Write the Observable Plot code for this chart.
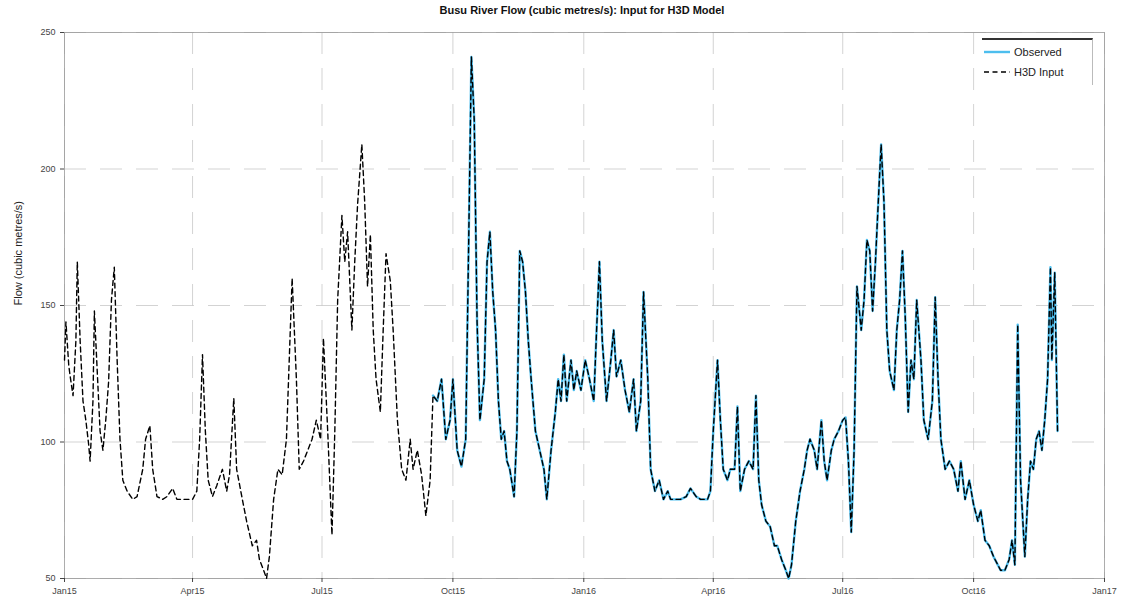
<!DOCTYPE html>
<html>
<head>
<meta charset="utf-8">
<script src="https://cdn.jsdelivr.net/npm/d3@7"></script>
<script src="https://cdn.jsdelivr.net/npm/@observablehq/plot@0.6"></script>
<style>
  body { margin: 0; background: #fff; font-family: "Liberation Sans", Arial, sans-serif; }
  #wrap { position: relative; width: 1124px; height: 604px; }
  #title { height: 20px; line-height: 20px; text-align: center; font-weight: bold; font-size: 11px; color: #111; padding-left: 40px; }
  #legend { position: absolute; left: 982px; top: 38px; width: 110px; background: #fff; border-top: 2px solid #333; border-right: 1px solid #bbb; font-size: 11px; color: #222; padding: 2px 0 3px 0; }
  #legend .row { display: flex; align-items: center; height: 20px; }
  #legend svg { margin: 0 4px 0 2px; }
</style>
</head>
<body>
<div id="wrap">
  <div id="title">Busu River Flow (cubic metres/s): Input for H3D Model</div>
  <div id="chart"></div>
  <div id="legend">
    <div class="row"><svg width="26" height="6"><line x1="0" y1="3" x2="26" y2="3" stroke="#4DBEEE" stroke-width="2.4"/></svg>Observed</div>
    <div class="row"><svg width="26" height="6"><line x1="0" y1="3" x2="26" y2="3" stroke="#000" stroke-width="1.5" stroke-dasharray="5,3.5"/></svg>H3D Input</div>
  </div>
</div>
<script>
const h3dDates = [
"2015-01-01","2015-01-02","2015-01-04","2015-01-05","2015-01-07","2015-01-09","2015-01-10","2015-01-12","2015-01-14","2015-01-16",
"2015-01-18","2015-01-19","2015-01-21","2015-01-22","2015-01-24","2015-01-26","2015-01-28","2015-01-30","2015-02-01","2015-02-03",
"2015-02-05","2015-02-07","2015-02-09","2015-02-11","2015-02-14","2015-02-18","2015-02-21","2015-02-25","2015-02-27","2015-03-02",
"2015-03-04","2015-03-07","2015-03-11","2015-03-14","2015-03-18","2015-03-21","2015-03-26","2015-04-01","2015-04-04","2015-04-06",
"2015-04-08","2015-04-10","2015-04-12","2015-04-15","2015-04-18","2015-04-22","2015-04-25","2015-04-27","2015-04-30","2015-05-02",
"2015-05-06","2015-05-09","2015-05-13","2015-05-16","2015-05-18","2015-05-21","2015-05-23","2015-05-25","2015-05-28","2015-05-31",
"2015-06-03","2015-06-06","2015-06-10","2015-06-13","2015-06-15","2015-06-18","2015-06-21","2015-06-24","2015-06-27","2015-06-30",
"2015-07-02","2015-07-05","2015-07-08","2015-07-10","2015-07-12","2015-07-15","2015-07-17","2015-07-19","2015-07-22","2015-07-24",
"2015-07-26","2015-07-29","2015-07-31","2015-08-02","2015-08-04","2015-08-06","2015-08-08","2015-08-11","2015-08-13","2015-08-15",
"2015-08-18","2015-08-20","2015-08-23","2015-08-26","2015-08-29","2015-09-01","2015-09-03","2015-09-06","2015-09-09","2015-09-12",
"2015-09-15","2015-09-17","2015-09-20","2015-09-23","2015-09-26","2015-09-29","2015-10-01","2015-10-04","2015-10-07","2015-10-10",
"2015-10-12","2015-10-14","2015-10-16","2015-10-18","2015-10-20","2015-10-23","2015-10-25","2015-10-27","2015-10-29","2015-10-31",
"2015-11-02","2015-11-04","2015-11-06","2015-11-08","2015-11-10","2015-11-13","2015-11-15","2015-11-17","2015-11-19","2015-11-21",
"2015-11-23","2015-11-25","2015-11-28","2015-12-01","2015-12-04","2015-12-06","2015-12-09","2015-12-12","2015-12-14","2015-12-16",
"2015-12-18","2015-12-20","2015-12-23","2015-12-25","2015-12-27","2015-12-30","2016-01-02","2016-01-05","2016-01-08","2016-01-10",
"2016-01-12","2016-01-14","2016-01-17","2016-01-20","2016-01-22","2016-01-24","2016-01-27","2016-01-30","2016-02-02","2016-02-05",
"2016-02-07","2016-02-10","2016-02-12","2016-02-15","2016-02-17","2016-02-20","2016-02-23","2016-02-26","2016-02-29","2016-03-02",
"2016-03-06","2016-03-09","2016-03-13","2016-03-16","2016-03-20","2016-03-23","2016-03-28","2016-03-30","2016-04-01","2016-04-04",
"2016-04-06","2016-04-08","2016-04-11","2016-04-13","2016-04-16","2016-04-18","2016-04-20","2016-04-23","2016-04-26","2016-04-29",
"2016-05-01","2016-05-03","2016-05-05","2016-05-08","2016-05-11","2016-05-14","2016-05-16","2016-05-19","2016-05-22","2016-05-24",
"2016-05-26","2016-05-29","2016-06-01","2016-06-04","2016-06-06","2016-06-08","2016-06-11","2016-06-13","2016-06-16","2016-06-18",
"2016-06-20","2016-06-23","2016-06-25","2016-06-28","2016-07-01","2016-07-03","2016-07-05","2016-07-07","2016-07-09","2016-07-11",
"2016-07-14","2016-07-16","2016-07-18","2016-07-20","2016-07-22","2016-07-24","2016-07-26","2016-07-28","2016-07-30","2016-08-01",
"2016-08-03","2016-08-06","2016-08-08","2016-08-10","2016-08-12","2016-08-14","2016-08-16","2016-08-18","2016-08-20","2016-08-22",
"2016-08-25","2016-08-27","2016-08-30","2016-09-02","2016-09-04","2016-09-06","2016-09-08","2016-09-11","2016-09-14","2016-09-17",
"2016-09-20","2016-09-22","2016-09-25","2016-09-28","2016-10-01","2016-10-04","2016-10-06","2016-10-09","2016-10-12","2016-10-15",
"2016-10-18","2016-10-20","2016-10-23","2016-10-26","2016-10-28","2016-10-30","2016-11-01","2016-11-03","2016-11-06","2016-11-08",
"2016-11-10","2016-11-12","2016-11-14","2016-11-16","2016-11-18","2016-11-20","2016-11-22","2016-11-24","2016-11-25","2016-11-27",
"2016-11-29"
];
const h3dFlow = [
130,144,128,124,117,137,166,137,115,108,
99,93,115,148,126,104,97,108,122,152,
164,130,101,86,82,79,80,90,101,106,
90,80,79,80,83,79,79,79,82,101,
132,104,86,80,84,90,82,88,116,90,
79,71,62,64,57,53,50,58,79,90,
88,101,160,123,90,93,97,101,108,101,
138,104,66,104,152,183,166,177,141,166,
187,209,188,157,176,141,123,111,141,169,
159,141,108,90,86,101,90,97,88,73,
86,117,115,123,101,108,123,97,91,101,
170,241,218,144,108,123,166,177,155,141,
115,101,104,93,90,80,104,170,166,155,
137,123,104,97,90,79,97,111,123,115,
132,115,130,119,126,119,130,123,115,141,
166,137,115,130,141,124,130,119,111,123,
104,115,155,123,90,82,86,79,82,79,
79,79,80,83,80,79,79,82,104,130,
108,90,86,90,90,113,82,90,93,90,
117,86,77,71,69,62,62,57,53,50,
55,71,82,90,97,101,97,90,108,93,
86,97,101,104,108,109,93,67,97,157,
141,152,174,170,148,166,188,209,188,141,
126,119,141,152,170,145,111,130,123,152,
130,108,101,115,153,123,101,90,93,90,
82,93,79,86,77,71,75,64,62,58,
55,53,53,57,64,55,143,86,58,79,
93,90,101,104,97,108,123,164,130,162,
104
];
const observedStart = "2015-09-17";
const yTicks = [50, 100, 150, 200, 250];
const yLabel = "Flow (cubic metres/s)";

const parse = d3.utcParse("%Y-%m-%d");
const h3d = h3dDates.map((d, i) => ({date: parse(d), flow: h3dFlow[i]}));
const obs = h3d.filter(d => d.date >= parse(observedStart));
const xTicks = d3.utcMonth.every(3).range(new Date(Date.UTC(2015,0,1)), new Date(Date.UTC(2017,0,2)));

const chart = Plot.plot({
  width: 1124,
  height: 584,
  marginTop: 12,
  marginBottom: 26,
  marginLeft: 64,
  marginRight: 20,
  style: {fontFamily: "Liberation Sans, Arial, sans-serif", fontSize: "9px", color: "#444"},
  x: {type: "utc", domain: [new Date(Date.UTC(2015,0,1)), new Date(Date.UTC(2017,0,1))], ticks: xTicks, tickFormat: d3.utcFormat("%b%y"), label: null, tickSize: 4},
  y: {domain: [50, 250], ticks: yTicks, label: null, tickSize: 4},
  marks: [
    Plot.gridX(xTicks, {stroke: "#c8c8c8", strokeOpacity: 1, strokeDasharray: "22,14", strokeWidth: 0.8}),
    Plot.gridY(yTicks, {stroke: "#c8c8c8", strokeOpacity: 1, strokeDasharray: "22,14", strokeWidth: 0.8}),
    Plot.frame({stroke: "#999", strokeWidth: 0.8}),
    Plot.axisX({ticks: xTicks, tickFormat: d3.utcFormat("%b%y"), tickSize: 4, label: null}),
    Plot.axisY({ticks: yTicks, tickSize: 4, label: null}),
    Plot.lineY(obs, {x: "date", y: "flow", stroke: "#4DBEEE", strokeWidth: 2.4}),
    Plot.lineY(h3d, {x: "date", y: "flow", stroke: "#000", strokeWidth: 1.4, strokeDasharray: "5,3.5"}),
    Plot.text([yLabel], {frameAnchor: "left", dx: -46, rotate: -90, fontSize: 11, fill: "#222"})
  ]
});
document.getElementById("chart").appendChild(chart);
</script>
</body>
</html>
